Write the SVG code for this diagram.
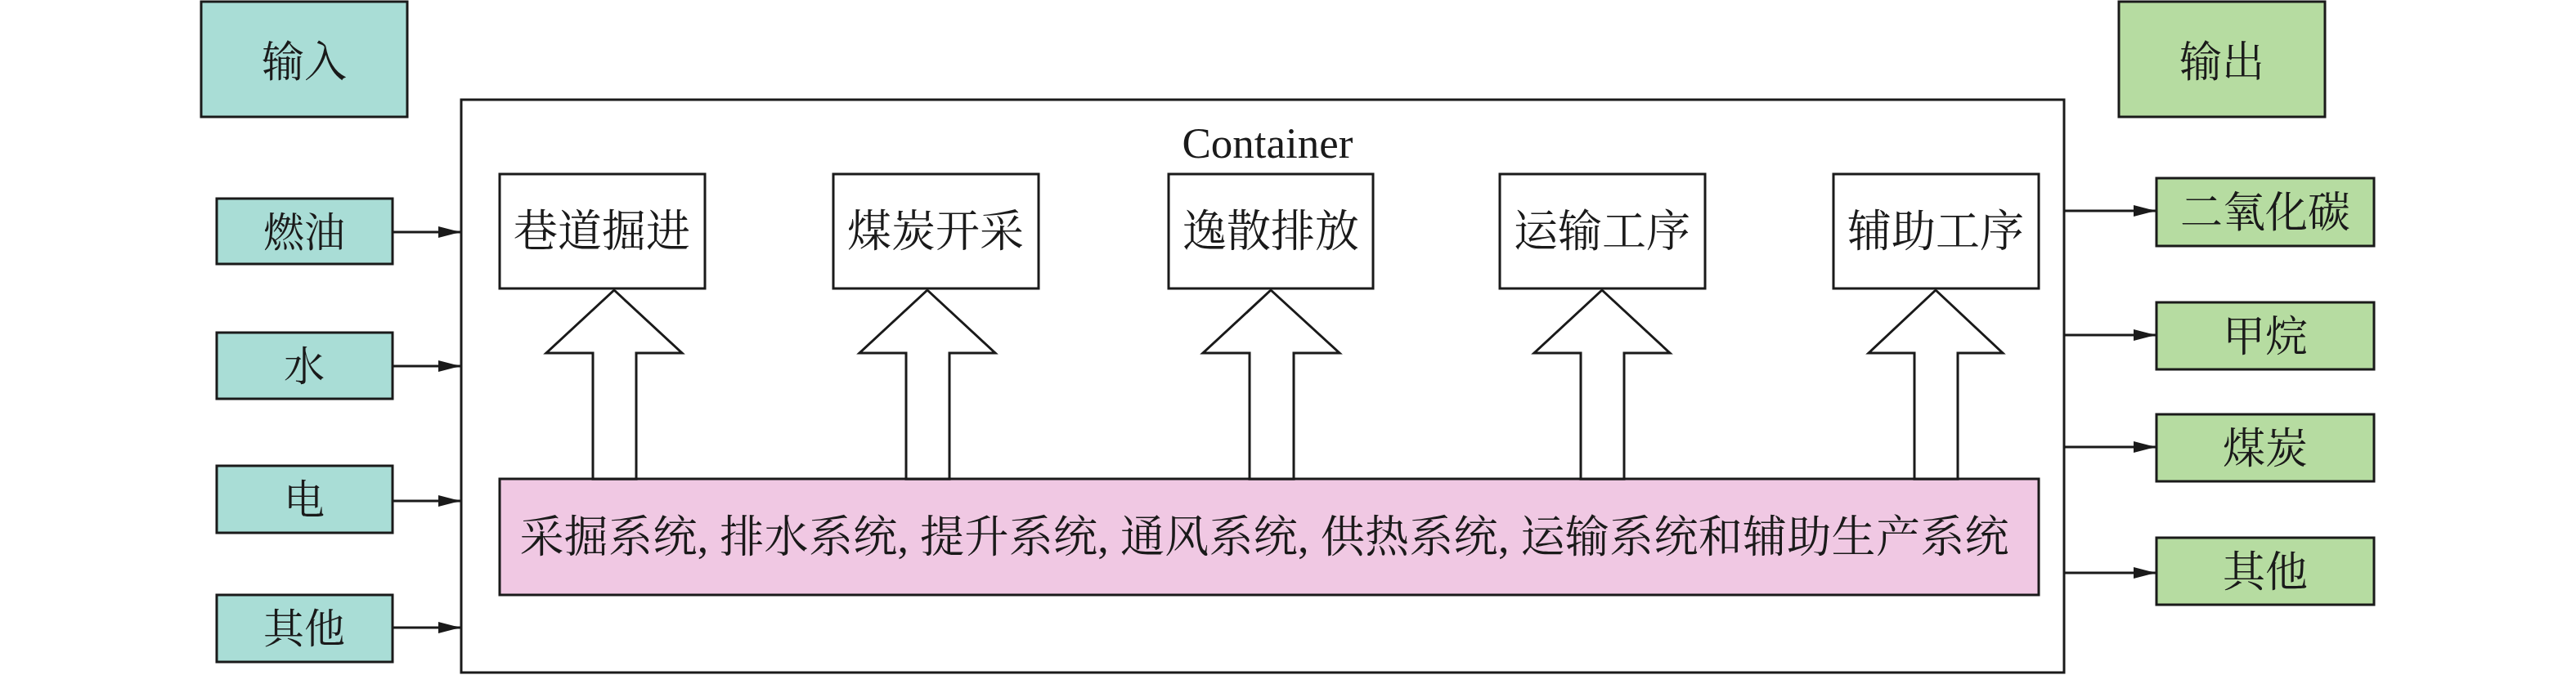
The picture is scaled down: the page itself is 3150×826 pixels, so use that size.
<svg xmlns="http://www.w3.org/2000/svg" width="3150" height="826" viewBox="0 0 3150 826">
<style>
.box{stroke:#1a1a1a;stroke-width:3}
.in{fill:#a9ddd6}
.out{fill:#b6dca1}
.proc{fill:#ffffff}
.sys{fill:#f0c8e3}
.cont{fill:none;stroke:#1a1a1a;stroke-width:3}
.lbl{font-family:"Liberation Serif","Noto Serif CJK SC","Noto Sans CJK SC",serif;fill:#1a1a1a;text-anchor:middle;dominant-baseline:central}
.conn{stroke:#1a1a1a;stroke-width:3;fill:none}
.big{fill:#ffffff;stroke:#1a1a1a;stroke-width:3;stroke-linejoin:miter}
</style>
<defs>
<marker id="ah" markerUnits="userSpaceOnUse" markerWidth="28" markerHeight="16" refX="27" refY="7" orient="auto">
<path d="M0,0 L27,7 L0,14 z" fill="#1a1a1a"/>
</marker>
</defs>
<rect id="bg" x="0" y="0" width="3150" height="826" fill="#ffffff"/>

<g id="container">
<rect class="cont" x="564" y="122" width="1960" height="701"/>
<text class="lbl" x="1550" y="193" font-size="53" style="dominant-baseline:auto">Container</text>
</g>

<g id="input-header"><rect class="box in" x="246" y="2" width="252" height="141"/><text class="lbl" x="372" y="76" font-size="52">输入</text></g>
<g id="output-header"><rect class="box out" x="2591" y="2" width="252" height="141"/><text class="lbl" x="2717" y="76" font-size="52">输出</text></g>

<g id="in-fuel"><rect class="box in" x="265" y="243" width="215" height="80"/><text class="lbl" x="372" y="285" font-size="50">燃油</text></g>
<g id="in-water"><rect class="box in" x="265" y="407" width="215" height="81"/><text class="lbl" x="372" y="449" font-size="50">水</text></g>
<g id="in-power"><rect class="box in" x="265" y="570" width="215" height="82"/><text class="lbl" x="372" y="612" font-size="50">电</text></g>
<g id="in-other"><rect class="box in" x="265" y="728" width="215" height="82"/><text class="lbl" x="372" y="770" font-size="50">其他</text></g>

<g id="out-co2"><rect class="box out" x="2637" y="218" width="266" height="83"/><text class="lbl" x="2770" y="260" font-size="52">二氧化碳</text></g>
<g id="out-ch4"><rect class="box out" x="2637" y="370" width="266" height="82"/><text class="lbl" x="2770" y="412" font-size="52">甲烷</text></g>
<g id="out-coal"><rect class="box out" x="2637" y="507" width="266" height="82"/><text class="lbl" x="2770" y="549" font-size="52">煤炭</text></g>
<g id="out-other"><rect class="box out" x="2637" y="658" width="266" height="82"/><text class="lbl" x="2770" y="700" font-size="52">其他</text></g>

<g id="proc-tunnel"><rect class="box proc" x="611" y="213" width="251" height="140"/><text class="lbl" x="736" y="284" font-size="54">巷道掘进</text></g>
<g id="proc-mining"><rect class="box proc" x="1019" y="213" width="251" height="140"/><text class="lbl" x="1144" y="284" font-size="54">煤炭开采</text></g>
<g id="proc-fugitive"><rect class="box proc" x="1429" y="213" width="250" height="140"/><text class="lbl" x="1554" y="284" font-size="54">逸散排放</text></g>
<g id="proc-transport"><rect class="box proc" x="1834" y="213" width="251" height="140"/><text class="lbl" x="1959" y="284" font-size="54">运输工序</text></g>
<g id="proc-aux"><rect class="box proc" x="2242" y="213" width="251" height="140"/><text class="lbl" x="2367" y="284" font-size="54">辅助工序</text></g>

<g id="systems"><rect class="box sys" x="611" y="586" width="1882" height="142"/><text class="lbl" x="1546" y="658" font-size="54" textLength="1821" lengthAdjust="spacing">采掘系统, 排水系统, 提升系统, 通风系统, 供热系统, 运输系统和辅助生产系统</text></g>

<g id="connectors">
<line class="conn" x1="480" y1="284" x2="563" y2="284" marker-end="url(#ah)"/>
<line class="conn" x1="480" y1="448" x2="563" y2="448" marker-end="url(#ah)"/>
<line class="conn" x1="480" y1="613" x2="563" y2="613" marker-end="url(#ah)"/>
<line class="conn" x1="480" y1="768" x2="563" y2="768" marker-end="url(#ah)"/>
<line class="conn" x1="2524" y1="258" x2="2636" y2="258" marker-end="url(#ah)"/>
<line class="conn" x1="2524" y1="410" x2="2636" y2="410" marker-end="url(#ah)"/>
<line class="conn" x1="2524" y1="547" x2="2636" y2="547" marker-end="url(#ah)"/>
<line class="conn" x1="2524" y1="701" x2="2636" y2="701" marker-end="url(#ah)"/>
<polygon class="big" points="751,355 834,432 778,432 778,586 725,586 725,432 668,432"/>
<polygon class="big" points="1134,355 1217,432 1161,432 1161,586 1108,586 1108,432 1051,432"/>
<polygon class="big" points="1554,355 1638,432 1582,432 1582,586 1528,586 1528,432 1471,432"/>
<polygon class="big" points="1959,355 2042,432 1986,432 1986,586 1933,586 1933,432 1876,432"/>
<polygon class="big" points="2367,355 2449,432 2394,432 2394,586 2341,586 2341,432 2285,432"/>
</g>
</svg>
